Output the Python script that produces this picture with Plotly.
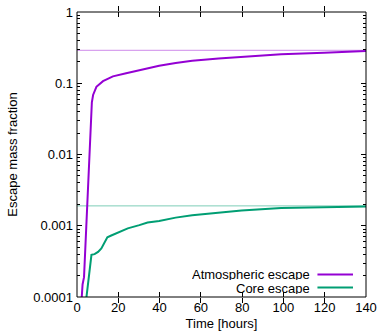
import plotly.graph_objects as go

# Data
t_atm = [2.2, 2.7, 3.4, 7.2, 7.8, 9.4, 12.6, 17.4, 23.8, 31.8, 39.8, 47.8, 55.8, 68.6, 79.7, 98.9, 119.7, 140]
atm = [9e-5, 1.5e-4, 1.9e-4, 0.054, 0.0685, 0.089, 0.107, 0.125, 0.138, 0.156, 0.176, 0.192, 0.207, 0.222, 0.235, 0.255, 0.268, 0.283]

t_core = [4.4, 7.0, 8.5, 10.2, 11.8, 14.7, 16.6, 21.4, 24.6, 30.2, 34.2, 39.8, 47.8, 55.8, 68.6, 79.7, 98.9, 119.7, 140]
core = [9e-5, 3.9e-4, 4.0e-4, 4.3e-4, 4.8e-4, 6.9e-4, 7.3e-4, 8.3e-4, 9.2e-4, 1.02e-3, 1.11e-3, 1.17e-3, 1.30e-3,
        1.40e-3, 1.52e-3, 1.64e-3, 1.77e-3, 1.82e-3, 1.86e-3]

limit_t = [0, 140]
atm_limit = 0.29
core_limit = 0.0019

x_ticks = [0, 20, 40, 60, 80, 100, 120, 140]
y_ticks = [1e-4, 1e-3, 1e-2, 1e-1, 1]
y_ticklabels = ["0.0001", "0.001", "0.01", "0.1", "1"]
y_minor_ticks = [m * 10.0 ** e for e in range(-4, 0) for m in range(2, 10)]

series_names = ["Atmospheric escape", "Core escape"]
PURPLE = "#9400D3"
GREEN = "#009E73"
FONT = "Liberation Sans, Arial, sans-serif"
Y_RANGE = [-4, 0]

fig = go.Figure()
fig.add_trace(go.Scatter(x=limit_t, y=[atm_limit] * 2, mode="lines",
                         line=dict(color=PURPLE, width=1), opacity=0.45, showlegend=False))
fig.add_trace(go.Scatter(x=limit_t, y=[core_limit] * 2, mode="lines",
                         line=dict(color=GREEN, width=1), opacity=0.5, showlegend=False))
fig.add_trace(go.Scatter(x=t_atm, y=atm, mode="lines", name=series_names[0],
                         line=dict(color=PURPLE, width=2), showlegend=False))
fig.add_trace(go.Scatter(x=t_core, y=core, mode="lines", name=series_names[1],
                         line=dict(color=GREEN, width=2), showlegend=False))
# invisible trace so that the minor-tick overlay axis is drawn
fig.add_trace(go.Scatter(x=[None], y=[None], yaxis="y2", showlegend=False, hoverinfo="skip"))

# Custom legend (text left, sample right, as in gnuplot)
legend_rows = [0.079, 0.033]
for name, color, yy in zip(series_names, [PURPLE, GREEN], legend_rows):
    fig.add_annotation(x=0.808, y=yy, xref="paper", yref="paper", text=name, showarrow=False,
                       xanchor="right", yanchor="middle", height=12, borderpad=0,
                       font=dict(size=13, color="black", family=FONT))
    fig.add_shape(type="line", xref="paper", yref="paper", x0=0.832, x1=0.955, y0=yy, y1=yy,
                  line=dict(color=color, width=2))

# plot frame
fig.add_shape(type="rect", xref="paper", yref="paper", x0=0, x1=1, y0=0, y1=1,
              line=dict(color="black", width=1), layer="above")

fig.update_layout(
    width=382, height=336,
    margin=dict(l=77, r=13, t=5, b=39),
    paper_bgcolor="white", plot_bgcolor="white",
    font=dict(family=FONT, size=13, color="black"),
    xaxis=dict(
        range=[0, 140], tickvals=x_ticks, ticks="inside", ticklen=5, tickcolor="black",
        showline=False, mirror="allticks", showgrid=False, zeroline=False,
        title=dict(text="Time [hours]", standoff=4, font=dict(size=13)),
        tickfont=dict(size=13), ticklabeloverflow="allow", ticklabelstandoff=1,
    ),
    yaxis=dict(
        type="log", range=Y_RANGE, tickvals=y_ticks, ticktext=y_ticklabels,
        ticks="inside", ticklen=5, tickcolor="black",
        showline=False, mirror="allticks", showgrid=False, zeroline=False,
        title=dict(text="Escape mass fraction", standoff=12, font=dict(size=13)),
        tickfont=dict(size=13), ticklabeloverflow="allow", ticklabelstandoff=3,
    ),
    yaxis2=dict(type="log", range=Y_RANGE, overlaying="y", side="left", tickvals=y_minor_ticks,
                ticks="inside", ticklen=3, tickcolor="black", showticklabels=False,
                showline=False, mirror="allticks", showgrid=False, zeroline=False),
)

fig.write_html("out.html", config={"displayModeBar": False},
               post_script="document.body.style.margin='0';")
